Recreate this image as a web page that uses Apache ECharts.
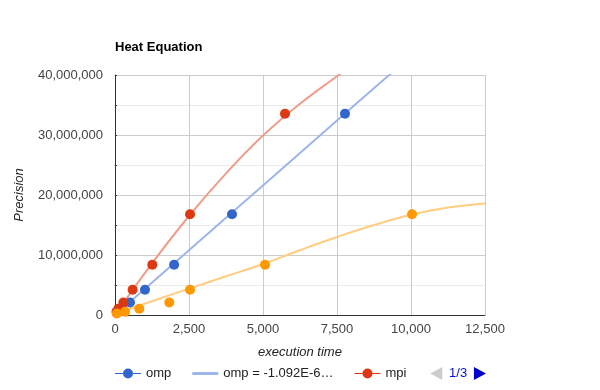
<!DOCTYPE html>
<html>
<head>
<meta charset="utf-8">
<script src="https://cdn.jsdelivr.net/npm/echarts@6/dist/echarts.min.js"></script>
<style>html,body{margin:0;padding:0;background:#fff}#c{width:600px;height:390px}</style>
</head>
<body>
<div id="c"></div>
<script>
// ---- data (x = execution time, y = precision) ----
const ompX = [110, 250, 507, 1014, 1997, 3953, 7770];
const ompY = [524288, 1048576, 2097152, 4194304, 8388608, 16777216, 33554432];
const mpiX = [50, 112, 282, 595, 1260, 2534, 5743];
const mpiY = [524288, 1048576, 2097152, 4194304, 8388608, 16777216, 33554432];
const hybX = [60, 338, 821, 1834, 2534, 5068, 10034];
const hybY = [262144, 524288, 1048576, 2097152, 4194304, 8388608, 16777216];

// trendlines
const ompTrendX = [0, 2500, 5000, 7500, 9400];
const ompTrendY = [0, 10800000, 21600000, 32400000, 40600000];
const mpiTrendX = [0, 1250, 2500, 3750, 5000, 6250, 7500, 7900];
const mpiTrendY = [0, 8600000, 16500000, 23600000, 29900000, 35200000, 39800000, 41200000];
const hybTrendX = [0, 1250, 2500, 3750, 5000, 6250, 7500, 8750, 10000, 11250, 12500];
const hybTrendY = [200000, 2300000, 4400000, 6450000, 8500000, 10800000, 13000000, 15000000, 16700000, 17900000, 18600000];

const names = ['omp', 'omp = -1.092E-6x^2 + 4.323E+3x', 'mpi', 'mpi = -2.428E-7x^2 + 7.245E+3x', 'hybrid', 'hybrid = -3.1E-11x^3 + 1.8E+3x'];
const xTicks = {min: 0, max: 12500, interval: 2500};
const yTicks = {min: 0, max: 40000000, interval: 10000000};

const zip = (xs, ys) => xs.map((x, i) => [x, ys[i]]);
const dotIcon = 'path://M0,4.5L26,4.5L26,5.5L0,5.5Z M8,5A5,5 0 1,1 18,5A5,5 0 1,1 8,5Z M0,0L0,0 M26,10L26,10';
const lineIcon = 'path://M0,3.5L26,3.5L26,6.5L0,6.5Z M0,0L0,0 M26,10L26,10';

const FONT = '"Liberation Sans", Arial, sans-serif';
const cols = ['#3366cc', '#9db5e8', '#dc3912', '#ee9d8a', '#ff9900', '#ffcc80'];

function scatter(name, xs, ys, color) {
  return {name, type: 'scatter', data: zip(xs, ys), symbol: 'circle', symbolSize: 10,
    itemStyle: {color, opacity: 1}, z: 5, animation: false};
}
function trend(name, xs, ys, color) {
  return {name, type: 'line', data: zip(xs, ys), smooth: 0.4, showSymbol: false, symbol: 'none',
    lineStyle: {color, width: 2}, itemStyle: {color}, z: 3, animation: false, clip: true};
}

const chart = echarts.init(document.getElementById('c'));
chart.setOption({
  animation: false,
  textStyle: {fontFamily: FONT},
  title: {text: 'Heat Equation', left: 110, top: 36,
    textStyle: {fontFamily: FONT, fontSize: 13, fontWeight: 'bold', color: '#000'}},
  grid: {left: 115, right: 115, top: 75, bottom: 75, containLabel: false},
  xAxis: {type: 'value', min: xTicks.min, max: xTicks.max, interval: xTicks.interval,
    name: 'execution time', nameLocation: 'middle', nameGap: 31,
    nameTextStyle: {fontFamily: FONT, fontSize: 13, fontStyle: 'italic', color: '#222'},
    axisLine: {show: true, onZero: false, lineStyle: {color: '#333', width: 1}},
    axisTick: {show: false},
    axisLabel: {fontFamily: FONT, fontSize: 13, color: '#444', margin: 8,
      formatter: v => v.toLocaleString('en-US')},
    splitLine: {show: true, lineStyle: {color: '#cccccc', width: 1}}},
  yAxis: {type: 'value', min: yTicks.min, max: yTicks.max, interval: yTicks.interval,
    name: 'Precision', nameLocation: 'middle', nameGap: 89,
    nameTextStyle: {fontFamily: FONT, fontSize: 13, fontStyle: 'italic', color: '#222'},
    axisLine: {show: true, onZero: false, lineStyle: {color: '#333', width: 1}},
    axisTick: {show: true, inside: true, length: 2, lineStyle: {color: '#333'}},
    minorTick: {show: true, splitNumber: 2, length: 2, lineStyle: {color: '#333'}},
    minorSplitLine: {show: true, lineStyle: {color: '#ebebeb', width: 1}},
    axisLabel: {fontFamily: FONT, fontSize: 13, color: '#444', margin: 12,
      formatter: v => v.toLocaleString('en-US')},
    splitLine: {show: true, lineStyle: {color: '#cccccc', width: 1}}},
  legend: {type: 'scroll', orient: 'horizontal', left: 110, top: 362, width: 371,
    itemWidth: 26, itemHeight: 10, itemGap: 21,
    textStyle: {fontFamily: FONT, fontSize: 13, color: '#222'},
    formatter: n => n.length > 16 ? n.slice(0, 15) + '…' : n,
    pageIcons: {horizontal: ['path://M0,7L13,0L13,14Z', 'path://M13,7L0,0L0,14Z']},
    pageIconColor: '#0000cc', pageIconInactiveColor: '#cccccc', pageIconSize: [13, 13],
    pageTextStyle: {fontFamily: FONT, fontSize: 13, color: '#0011cc'},
    pageButtonItemGap: 1, pageButtonGap: 5,
    data: [
      {name: names[0], icon: dotIcon}, {name: names[1], icon: lineIcon},
      {name: names[2], icon: dotIcon}, {name: names[3], icon: lineIcon},
      {name: names[4], icon: dotIcon}, {name: names[5], icon: lineIcon}]},
  series: [
    scatter(names[0], ompX, ompY, cols[0]),
    trend(names[1], ompTrendX, ompTrendY, cols[1]),
    scatter(names[2], mpiX, mpiY, cols[2]),
    trend(names[3], mpiTrendX, mpiTrendY, cols[3]),
    scatter(names[4], hybX, hybY, cols[4]),
    trend(names[5], hybTrendX, hybTrendY, cols[5])
  ]
});
</script>
</body>
</html>
